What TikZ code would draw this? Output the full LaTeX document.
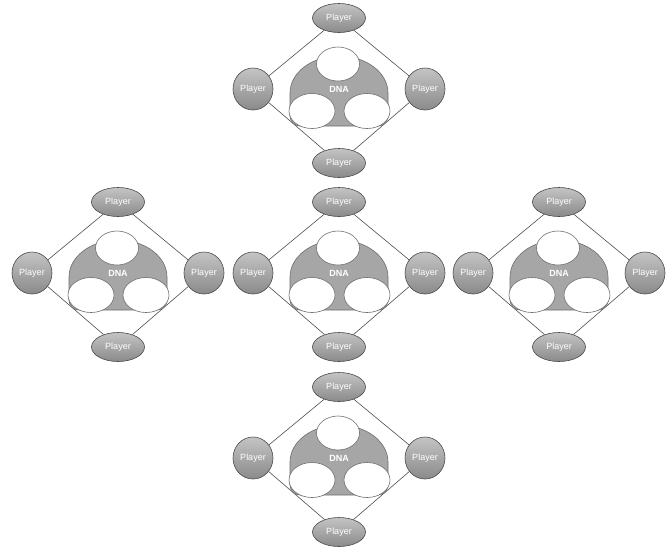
\documentclass[tikz,border=0pt]{standalone}
\usepackage{fontspec}
\setmainfont{Liberation Sans}
\usetikzlibrary{shapes.geometric}
\definecolor{plTop}{HTML}{C4C4C4}
\definecolor{plBot}{HTML}{8A8A8A}
\definecolor{plEdge}{HTML}{4A4A4A}
\definecolor{dnaFill}{HTML}{A6A6A6}
\definecolor{dnaEdge}{HTML}{6E6E6E}
\definecolor{lineCol}{HTML}{4F4F4F}
\tikzset{
  player/.style={ellipse, draw=plEdge, line width=0.6pt, top color=plTop, bottom color=plBot,
    inner sep=0pt, text=white, font=\fontsize{9}{10}\selectfont},
  playerh/.style={player, minimum width=53pt, minimum height=29pt},
  playerv/.style={player, minimum width=40pt, minimum height=42pt},
  dnablob/.style={fill=dnaFill, draw=dnaEdge, line width=0.6pt},
  hole/.style={ellipse, fill=white, draw=dnaEdge, line width=0.6pt, inner sep=0pt},
  holetop/.style={hole, minimum width=43pt, minimum height=34pt},
  holebot/.style={hole, minimum width=46pt, minimum height=35pt},
  rim/.style={draw=lineCol, line width=0.6pt},
  dnaunit/.pic={
    \node[playerh] (-t) at (0,-71) {Player};
    \node[playerh] (-b) at (0,74) {Player};
    \node[playerv] (-l) at (-86,0) {Player};
    \node[playerv] (-r) at (86,0) {Player};
    \draw[rim] (-t) -- (-l) -- (-b) -- (-r) -- (-t);
    \path[dnablob] (-49,4) arc[start angle=180, end angle=360, x radius=49, y radius=37]
      -- (49,27) arc[start angle=0, end angle=90, radius=10]
      -- (-39,37) arc[start angle=90, end angle=180, radius=10] -- cycle;
    \node[text=white, font=\fontsize{9}{10}\selectfont\bfseries] (-d) at (0,0) {DNA};
    \node[holetop] (-h1) at (-1,-25) {};
    \node[holebot] (-h2) at (-27,22) {};
    \node[holebot] (-h3) at (28,22) {};
  }
}
\begin{document}
\begin{tikzpicture}[x=1pt,y=-1pt]
\useasboundingbox[fill=white] (0,0) rectangle (672,550);
\pic (up) at (339,89) {dnaunit};
\pic (west) at (118,273) {dnaunit};
\pic (mid) at (339,273) {dnaunit};
\pic (east) at (559,273) {dnaunit};
\pic (down) at (339,458) {dnaunit};
\end{tikzpicture}
\end{document}
